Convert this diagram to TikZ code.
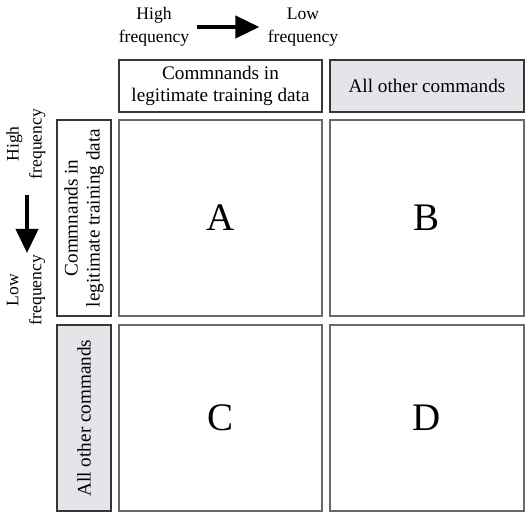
\documentclass[tikz,border=0pt]{standalone}
\usepackage{fontspec}
\setmainfont{Liberation Serif}
\usepackage{xcolor}
\definecolor{hdrgray}{RGB}{228,229,232}
\definecolor{hdrline}{RGB}{55,55,55}
\definecolor{cellline}{RGB}{105,105,105}
\usetikzlibrary{arrows.meta}

\begin{document}
\begin{tikzpicture}[x=0.5pt, y=-0.5pt,
    hdrbox/.style={draw=hdrline, line width=0.6pt, align=center, inner sep=0pt,
      font=\fontsize{9.6}{11}\selectfont},
    cellbox/.style={draw=cellline, line width=0.8pt, inner sep=0pt,
      font=\fontsize{19.5}{20}\selectfont},
    freqlabel/.style={inner sep=1pt, align=center, font=\fontsize{8.8}{11.5}\selectfont},
    bigarrow/.style={line width=2pt, -{Triangle[length=12pt,width=11pt]}}]
  \useasboundingbox (0,0) rectangle (525,513);

  % Frequency labels and arrows
  \node[freqlabel] (hiTop) at (154,27) {High\\frequency};
  \node[freqlabel] (loTop) at (303,27) {Low\\frequency};
  \draw[bigarrow, shorten <=2.5pt, shorten >=3pt] (hiTop.east) -- (loTop.west);

  \node[freqlabel, rotate=90] (hiLeft) at (26,144) {High\\frequency};
  \node[freqlabel, rotate=90] (loLeft) at (26,290) {Low\\frequency};
  \coordinate (arrTop) at (27,195);
  \coordinate (arrTip) at (27,253);
  \draw[bigarrow] (arrTop) -- (arrTip);

  % Column headers
  \node[hdrbox, minimum width=101.5pt, minimum height=26pt] (colA) at (220.5,86)
    {Commnands in\\legitimate training data};
  \node[hdrbox, fill=hdrgray, minimum width=97pt, minimum height=26pt] (colB) at (427,86)
    {All other commands};

  % Row headers
  \node[hdrbox, rotate=90, minimum width=98pt, minimum height=27pt] (rowA) at (84,218)
    {Commnands in\\legitimate training data};
  \node[hdrbox, fill=hdrgray, rotate=90, minimum width=93pt, minimum height=27pt] (rowB) at (84,418)
    {All other commands};

  % Cells
  \node[cellbox, minimum width=101.5pt, minimum height=98pt] (cellA) at (220.5,218) {A};
  \node[cellbox, minimum width=97pt, minimum height=98pt] (cellB) at (427,218) {B};
  \node[cellbox, minimum width=101.5pt, minimum height=93pt] (cellC) at (220.5,418) {C};
  \node[cellbox, minimum width=97pt, minimum height=93pt] (cellD) at (427,418) {D};
\end{tikzpicture}
\end{document}
